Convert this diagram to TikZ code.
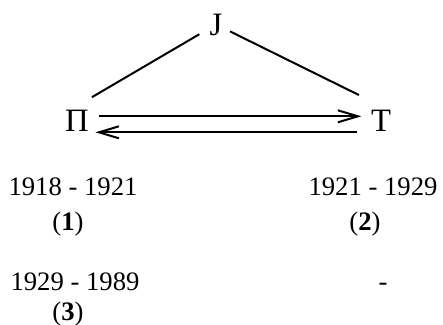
\documentclass[tikz,border=0pt]{standalone}
\usepackage{fontspec}
\setmainfont{Liberation Serif}
\usetikzlibrary{arrows.meta}

\begin{document}
\begin{tikzpicture}[
        x=0.75pt, y=-0.75pt,
        line width=1.5pt,
        lbl/.style={font=\fontsize{20}{23}\selectfont, inner sep=2pt, anchor=base},
        vertex/.style={font=\fontsize{24.5}{28}\selectfont, inner sep=2pt, anchor=base},
        barb/.style={-{Straight Barb[length=15pt, width=9pt, line width=1.5pt]}}
      ]
      \useasboundingbox (0,0) rectangle (443,325);

      \node (J) [vertex] at (216,35) {J};
      \node (Pi) [vertex] at (77,131) {Π};
      \node (T) [vertex] at (381,131) {T};

      \node (D1) [lbl] at (73,195) {1918 - 1921};
      \node (D2) [lbl] at (373,195) {1921 - 1929};
      \node (N1) [lbl] at (68,230) {(\textbf{1})};
      \node (N2) [lbl] at (365,230) {(\textbf{2})};
      \node (D3) [lbl] at (75,290) {1929 - 1989};
      \node (Dash) [lbl] at (383,290) {-};
      \node (N3) [lbl] at (68,320) {(\textbf{3})};

      \draw[shorten <=14.5pt, shorten >=13pt] (J.center) -- (Pi.north);
      \draw[shorten <=11.7pt, shorten >=18.5pt] (J.center) -- (T.north);
      \draw[barb] ([shift={(7,-4)}]Pi.east) -- ([shift={(-6,-4)}]T.west);
      \draw[barb] ([shift={(-10,12)}]T.west) -- ([shift={(3,12)}]Pi.east);

    \end{tikzpicture}
\end{document}
